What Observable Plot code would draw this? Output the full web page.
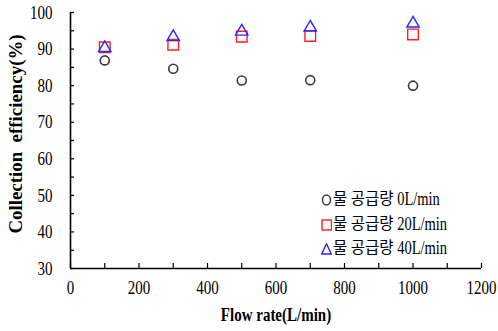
<!DOCTYPE html>
<html><head><meta charset="utf-8">
<script src="https://cdn.jsdelivr.net/npm/d3@7"></script>
<script src="https://cdn.jsdelivr.net/npm/@observablehq/plot@0.6"></script>
<style>
body{margin:0;background:#fff;}
#wrap{position:relative;width:498px;height:331px;overflow:hidden;}
.lg{position:absolute;left:321px;height:24px;line-height:24px;white-space:nowrap;font-family:"Liberation Serif",serif;font-size:14.5px;color:#000;}
.lg svg{vertical-align:middle;margin-right:1px;position:relative;top:-1px;}
.lat{display:inline-block;transform:scaleY(1.25);}
.kr{font-family:"Noto Sans CJK KR",sans-serif;font-size:15.5px;}
</style></head><body>
<div id="wrap"></div>
<script>
// ---- data ----
const flowRate = [100, 300, 500, 700, 1000];
const eff0  = [86.9, 84.6, 81.4, 81.5, 80.0];
const eff20 = [90.5, 91.2, 93.4, 93.6, 94.0];
const eff40 = [90.3, 93.3, 94.8, 95.9, 97.0];
const seriesKr = ["물 공급량", "물 공급량", "물 공급량"];
const seriesRate = ["0L/min", "20L/min", "40L/min"];
const xTicks = [0, 200, 400, 600, 800, 1000, 1200];
const xMinorTicks = [0, 100, 200, 300, 400, 500, 600, 700, 800, 900, 1000, 1100, 1200];
const yTicks = [30, 40, 50, 60, 70, 80, 90, 100];
const yMinorTicks = [30, 35, 40, 45, 50, 55, 60, 65, 70, 75, 80, 85, 90, 95, 100];
const xLabel = "Flow rate(L/min)";
const yLabel = "Collection  efficiency(%)";

const d0 = flowRate.map((x, i) => ({x, y: eff0[i]}));
const d20 = flowRate.map((x, i) => ({x, y: eff20[i]}));
const d40 = flowRate.map((x, i) => ({x, y: eff40[i]}));

const plot = Plot.plot({
  width: 498, height: 331,
  marginLeft: 70, marginRight: 17, marginTop: 12, marginBottom: 63,
  x: {domain: [0, 1200]},
  y: {domain: [30, 100]},
  style: {fontFamily: "'Liberation Serif', serif", fontSize: "15px", color: "#000", background: "#fff"},
  marks: [
    Plot.axisX({ticks: xTicks, tickSize: 0, tickPadding: 12, tickFormat: d => String(d), label: null, fontSize: 15}),
    Plot.axisX({ticks: xMinorTicks, tickSize: -5, text: null, label: null, strokeWidth: 1.2}),
    Plot.axisY({ticks: yTicks, tickSize: 0, tickPadding: 18, tickFormat: d => String(d), label: null, fontSize: 15}),
    Plot.axisY({ticks: yMinorTicks, tickSize: -4, text: null, label: null, strokeWidth: 1.2}),
    Plot.ruleX([0], {stroke: "#000", strokeWidth: 1.6}),
    Plot.ruleY([30], {stroke: "#000", strokeWidth: 1.6}),
    Plot.text([xLabel], {frameAnchor: "bottom", dy: 52, fontWeight: "bold", fontSize: 15}),
    Plot.text([yLabel], {frameAnchor: "left", textAnchor: "middle", rotate: -90, dx: -54, dy: -6.5, fontWeight: "bold", fontSize: 18}),
    Plot.dot(d0, {x: "x", y: "y", symbol: "circle", r: 4.5, stroke: "#3a3a3a", strokeWidth: 1.6}),
    Plot.dot(d20, {x: "x", y: "y", symbol: "square", r: 6, stroke: "#ff2020", strokeWidth: 1.4}),
    Plot.dot(d40, {x: "x", y: "y", symbol: "triangle", r: 4.6, stroke: "#2828ff", strokeWidth: 1.4})
  ]
});

// vertical stretch of text to match the reference's tall glyphs
const S = 1.3;
d3.select(plot).selectAll("text").each(function() {
  const t = this.getAttribute("transform") || "";
  const rotated = /rotate/.test(t);
  this.setAttribute("transform", `${t} ${rotated ? `scale(1.05,1)` : `scale(1,${S})`}`);
});

const wrap = document.getElementById("wrap");
wrap.appendChild(plot);

const symbols = [
  `<svg width="11" height="12" viewBox="0 0 11 12"><ellipse cx="5.5" cy="6" rx="4" ry="5" fill="none" stroke="#3a3a3a" stroke-width="1.5"/></svg>`,
  `<svg width="11" height="12" viewBox="0 0 11 12"><rect x="1" y="1" width="9.5" height="10" fill="none" stroke="#ff2020" stroke-width="1.4"/></svg>`,
  `<svg width="11" height="12" viewBox="0 0 11 12"><path d="M5.5,0.8L10.3,11H0.7Z" fill="none" stroke="#2828ff" stroke-width="1.4"/></svg>`
];
const rowTops = [185, 210, 234];
seriesRate.forEach((r, i) => {
  const d = document.createElement("div");
  d.className = "lg";
  d.style.top = rowTops[i] + "px";
  d.innerHTML = symbols[i] + `<span class="kr">${seriesKr[i]}</span> <span class="lat">${r}</span>`;
  wrap.appendChild(d);
});
</script>
</body></html>
